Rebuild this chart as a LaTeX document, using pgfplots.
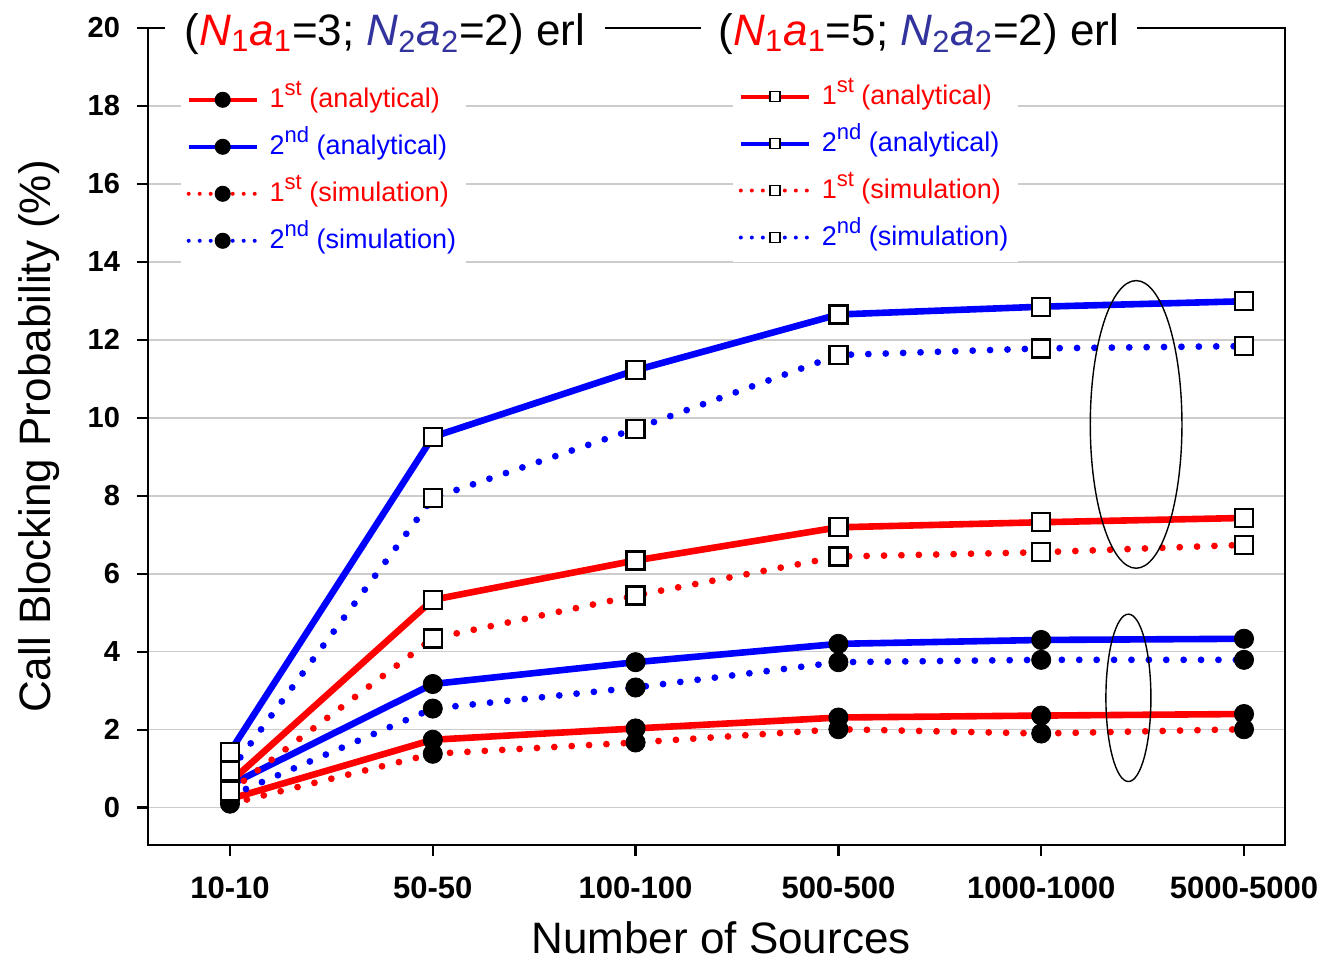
\documentclass[border=0pt]{standalone}
\usepackage{pgfplots}
\usepackage{pgfplotstable}
\pgfplotsset{compat=1.18}
\usepackage{fontspec}
\setmainfont{Liberation Sans}
\definecolor{tblue}{rgb}{0.2,0.2,0.62}
\newcommand{\sups}[1]{\raisebox{6pt}{\fontsize{11}{13}\selectfont #1}}

\pgfplotstableread{
x ra ba rs bs
0 0.22 0.58 0.10 0.30
1 1.74 3.17 1.38 2.54
2 2.03 3.73 1.67 3.08
3 2.31 4.20 2.01 3.73
4 2.36 4.30 1.90 3.79
5 2.40 4.33 2.01 3.79
}\circdata
\pgfplotstableread{
x ra ba rs bs
0 0.65 1.43 0.42 0.93
1 5.33 9.51 4.34 7.94
2 6.34 11.22 5.44 9.72
3 7.19 12.65 6.44 11.61
4 7.32 12.85 6.55 11.78
5 7.43 12.99 6.74 11.84
}\sqdata

\pgfplotsset{
  base/.style={
    scale only axis, width=568.5pt, height=408.5pt,
    xmin=-0.404, xmax=5.202, ymin=-0.96, ymax=20,
    legend cell align=left,
    legend style={draw=none, fill=white, font=\fontsize{13.5}{16}\selectfont,
      row sep=5.5pt, inner xsep=3pt, inner ysep=3pt,
      nodes={text height=11pt, text depth=3pt, inner sep=2pt}},
  },
  solidline/.style={line width=3.3pt, line join=round},
  dotline/.style={line width=3.4pt, line cap=round, dash pattern=on 0pt off 8.7pt},
  cmark/.style={only marks, mark=*, mark size=4.8pt, mark options={black, fill=black, solid}},
  smark/.style={only marks, mark=square*, mark size=4.5pt, mark options={black, fill=white, line width=1.1pt, solid}},
  legsolid/.style={line width=2pt},
  legdot/.style={line width=2pt, line cap=round, dash pattern=on 0pt off 5.5pt},
}

\begin{document}
\begin{tikzpicture}
\begin{axis}[base,
  axis line style={line width=1.3pt},
  tick style={line width=1.1pt, black}, major tick length=5.5pt, tick align=outside,
  xtick={0,...,5}, xticklabels={10-10,50-50,100-100,500-500,1000-1000,5000-5000},
  xtick pos=left, ytick pos=left, ytick={0,2,...,20},
  ymajorgrids, grid style={gray!40, line width=0.8pt},
  yticklabel style={font=\bfseries\fontsize{14.5}{17}\selectfont, xshift=-5pt},
  xticklabel style={font=\bfseries\fontsize{15.5}{18}\selectfont, yshift=-7pt},
  /pgf/number format/assume math mode=true,
  xlabel={Number of Sources}, ylabel={Call Blocking Probability (\%)},
  every axis x label/.style={at={(axis description cs:0.504,-0.1330)}, anchor=base, inner sep=0pt, font=\fontsize{22}{26}\selectfont},
  every axis y label/.style={at={(axis description cs:-0.0862,0.5)}, rotate=90, anchor=base, inner sep=0pt, font=\fontsize{22}{26}\selectfont},
  legend style={at={(0.0284,0.942)}, anchor=north west},
  legend image code/.code={\draw[mark repeat=2,mark phase=2,#1] plot coordinates {(0pt,0pt) (17pt,0pt) (34pt,0pt)};},
]
\addlegendimage{red, legsolid, mark=*, mark size=3pt, mark options={black, fill=black, solid}}
\addlegendentry{\hspace{3.5pt}\textcolor{red}{1\sups{st} (analytical)}}
\addlegendimage{blue, legsolid, mark=*, mark size=3pt, mark options={black, fill=black, solid}}
\addlegendentry{\hspace{3.5pt}\textcolor{blue}{2\sups{nd} (analytical)}}
\addlegendimage{red, legdot, mark=*, mark size=3pt, mark options={black, fill=black, solid}}
\addlegendentry{\hspace{3.5pt}\textcolor{red}{1\sups{st} (simulation)}}
\addlegendimage{blue, legdot, mark=*, mark size=3pt, mark options={black, fill=black, solid}}
\addlegendentry{\hspace{3.5pt}\textcolor{blue}{2\sups{nd} (simulation)}}

\addplot[red, solidline, forget plot] table[x=x, y=ra] {\circdata};
\addplot[blue, solidline, forget plot] table[x=x, y=ba] {\circdata};
\addplot[red, dotline, forget plot] table[x=x, y=rs] {\circdata};
\addplot[blue, dotline, forget plot] table[x=x, y=bs] {\circdata};
\addplot[cmark, forget plot] table[x=x, y=ra] {\circdata};
\addplot[cmark, forget plot] table[x=x, y=ba] {\circdata};
\addplot[cmark, forget plot] table[x=x, y=rs] {\circdata};
\addplot[cmark, forget plot] table[x=x, y=bs] {\circdata};

\coordinate (bbl) at (rel axis cs:-0.1302,-0.1457);
\coordinate (btr) at (rel axis cs:1.0317,1.0343);
\coordinate (t1) at (rel axis cs:0.2084,1);
\coordinate (t2) at (rel axis cs:0.678,1);
\end{axis}

\begin{axis}[base, hide axis,
  legend style={at={(0.514,0.946)}, anchor=north west},
  legend image code/.code={\draw[mark repeat=2,mark phase=2,#1] plot coordinates {(0pt,0pt) (17pt,0pt) (34pt,0pt)};},
]
\addlegendimage{red, legsolid, mark=square*, mark size=2.5pt, mark options={black, fill=white, line width=0.8pt, solid}}
\addlegendentry{\hspace{3.5pt}\textcolor{red}{1\sups{st} (analytical)}}
\addlegendimage{blue, legsolid, mark=square*, mark size=2.5pt, mark options={black, fill=white, line width=0.8pt, solid}}
\addlegendentry{\hspace{3.5pt}\textcolor{blue}{2\sups{nd} (analytical)}}
\addlegendimage{red, legdot, mark=square*, mark size=2.5pt, mark options={black, fill=white, line width=0.8pt, solid}}
\addlegendentry{\hspace{3.5pt}\textcolor{red}{1\sups{st} (simulation)}}
\addlegendimage{blue, legdot, mark=square*, mark size=2.5pt, mark options={black, fill=white, line width=0.8pt, solid}}
\addlegendentry{\hspace{3.5pt}\textcolor{blue}{2\sups{nd} (simulation)}}

\addplot[red, solidline, forget plot] table[x=x, y=ra] {\sqdata};
\addplot[blue, solidline, forget plot] table[x=x, y=ba] {\sqdata};
\addplot[red, dotline, forget plot] table[x=x, y=rs] {\sqdata};
\addplot[blue, dotline, forget plot] table[x=x, y=bs] {\sqdata};
\addplot[smark, forget plot] table[x=x, y=ra] {\sqdata};
\addplot[smark, forget plot] table[x=x, y=ba] {\sqdata};
\addplot[smark, forget plot] table[x=x, y=rs] {\sqdata};
\addplot[smark, forget plot] table[x=x, y=bs] {\sqdata};

\draw[black, line width=0.7pt] (axis cs:4.468,9.83) ellipse [x radius=0.226, y radius=3.69];
\draw[black, line width=0.7pt] (axis cs:4.43,2.815) ellipse [x radius=0.111, y radius=2.147];
\end{axis}

\node[fill=white, inner xsep=10pt, inner ysep=1pt, anchor=base, font=\fontsize{22}{26}\selectfont]
  at ([yshift=-8.5pt]t1) {(\textcolor{red}{\textit{N}\textsubscript{1}\textit{a}\textsubscript{1}}=3; \textcolor{tblue}{\textit{N}\textsubscript{2}\textit{a}\textsubscript{2}}=2) erl};
\node[fill=white, inner xsep=9pt, inner ysep=1pt, anchor=base, font=\fontsize{22}{26}\selectfont]
  at ([yshift=-8.5pt]t2) {(\textcolor{red}{\textit{N}\textsubscript{1}\textit{a}\textsubscript{1}}=5; \textcolor{tblue}{\textit{N}\textsubscript{2}\textit{a}\textsubscript{2}}=2) erl};

\pgfresetboundingbox
\useasboundingbox (bbl) rectangle (btr);
\end{tikzpicture}
\end{document}
